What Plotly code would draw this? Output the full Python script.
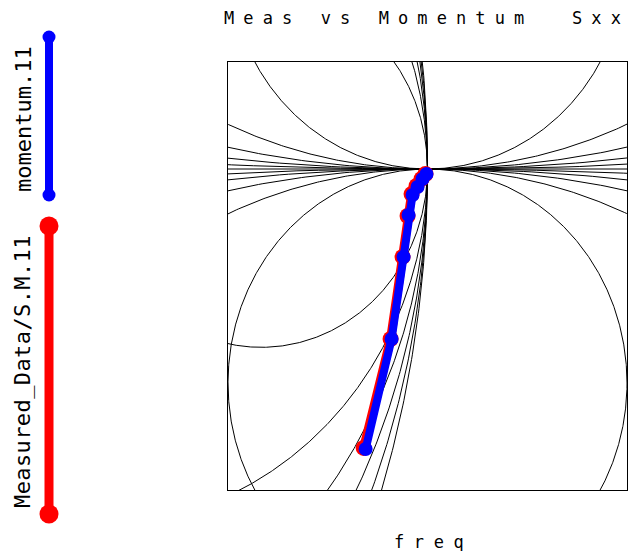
import numpy as np
import plotly.graph_objects as go

# ---- data (reflection coefficient, real / imaginary parts) ----
meas_re = [0.936, 0.963, 0.975, 0.980, 0.984, 0.989, 0.994, 0.998]
meas_im = [-0.2607, -0.1589, -0.0822, -0.0439, -0.0234, -0.0159, -0.0093, -0.0047]
mom_re = [0.938, 0.964, 0.976, 0.981, 0.985, 0.990, 0.995, 0.999]
mom_im = [-0.2617, -0.1589, -0.0822, -0.0430, -0.0243, -0.0168, -0.0093, -0.0047]

# Smith chart grid values
r_values = [0, 0.2, 0.5, 1, 2, 5]
x_values = [0.2, 0.5, 1, 2, 5]

x_range = [0.8, 1.2]
y_range = [-0.3, 0.1]

title_text = "Meas vs Momentum\u00a0\u00a0Sxx"
xlabel_text = "freq"
legend_names = ["momentum.11", "Measured_Data/S.M.11"]

W, H = 632, 551
ML, MR, MT, MB = 228, 5, 62, 61

theta = np.linspace(0, 2 * np.pi, 1441)
gx, gy = [], []
for r in r_values:
    c, rad = r / (1 + r), 1 / (1 + r)
    gx += list(c + rad * np.cos(theta)) + [None]
    gy += list(rad * np.sin(theta)) + [None]
for xv in x_values:
    for s in (1, -1):
        rad = 1 / xv
        gx += list(1 + rad * np.cos(theta)) + [None]
        gy += list(s * rad + rad * np.sin(theta)) + [None]
gx += [x_range[0] - 1, x_range[1] + 1]
gy += [0, 0]

fig = go.Figure()
fig.add_trace(go.Scatter(x=gx, y=gy, mode="lines", line=dict(color="black", width=1),
                         hoverinfo="skip", showlegend=False))
fig.add_trace(go.Scatter(x=meas_re, y=meas_im, mode="lines+markers", name=legend_names[1],
                         line=dict(color="#ff0000", width=9),
                         marker=dict(color="#ff0000", size=16), showlegend=False))
fig.add_trace(go.Scatter(x=mom_re, y=mom_im, mode="lines+markers", name=legend_names[0],
                         line=dict(color="#0000ff", width=8),
                         marker=dict(color="#0000ff", size=14), showlegend=False))

pw, ph = W - ML - MR, H - MT - MB


def px(xp):
    return (xp - ML) / pw


def py(yp):
    return (H - MB - yp) / ph


shapes = []
# legend entries: blue (momentum) top, red (measured) bottom
for color, y0, y1, msz, lw in [("#0000ff", 37, 195, 13, 8), ("#ff0000", 226, 514, 19, 9)]:
    shapes.append(dict(type="line", xref="paper", yref="paper", x0=px(49), x1=px(49),
                       y0=py(y0), y1=py(y1), line=dict(color=color, width=lw)))
    for yc in (y0, y1):
        shapes.append(dict(type="circle", xref="paper", yref="paper",
                           x0=px(49 - msz / 2), x1=px(49 + msz / 2),
                           y0=py(yc - msz / 2), y1=py(yc + msz / 2),
                           fillcolor=color, line=dict(color=color, width=0)))

mono = "DejaVu Sans Mono"
annotations = [
    dict(text='<span style="letter-spacing:9.1px">' + title_text + '</span>',
         xref="paper", yref="paper", x=px(222), y=py(25), xanchor="left", yanchor="bottom",
         yshift=-5, showarrow=False, font=dict(family=mono, size=17, color="black")),
    dict(text='<span style="letter-spacing:9.6px">' + xlabel_text + '</span>',
         xref="paper", yref="paper", x=px(392), y=py(549), xanchor="left", yanchor="bottom",
         yshift=-5, showarrow=False, font=dict(family=mono, size=17, color="black")),
    dict(text='<span style="letter-spacing:0px">' + legend_names[0] + '</span>',
         xref="paper", yref="paper", x=px(23), y=py(119), xanchor="center", yanchor="middle",
         textangle=-90, showarrow=False, font=dict(family=mono, size=22, color="black")),
    dict(text='<span style="letter-spacing:0.4px">' + legend_names[1] + '</span>',
         xref="paper", yref="paper", x=px(22), y=py(372), xanchor="center", yanchor="middle",
         textangle=-90, showarrow=False, font=dict(family=mono, size=22, color="black")),
]

fig.update_layout(
    width=W, height=H,
    margin=dict(l=ML, r=MR, t=MT, b=MB),
    paper_bgcolor="white", plot_bgcolor="white",
    shapes=shapes, annotations=annotations,
    showlegend=False,
)
axis_common = dict(showgrid=False, zeroline=False, showticklabels=False, ticks="",
                   showline=True, linecolor="black", linewidth=1, mirror=True)
fig.update_xaxes(range=x_range, **axis_common)
fig.update_yaxes(range=y_range, **axis_common)

fig.write_html("out.html", config={"displayModeBar": False})

# remove the default page margin so the figure sits at the window's top-left corner
with open("out.html", encoding="utf-8") as f:
    html = f.read()
html = html.replace("<head>", "<head><style>html,body{margin:0;padding:0;overflow:hidden;}</style>", 1)
with open("out.html", "w", encoding="utf-8") as f:
    f.write(html)
